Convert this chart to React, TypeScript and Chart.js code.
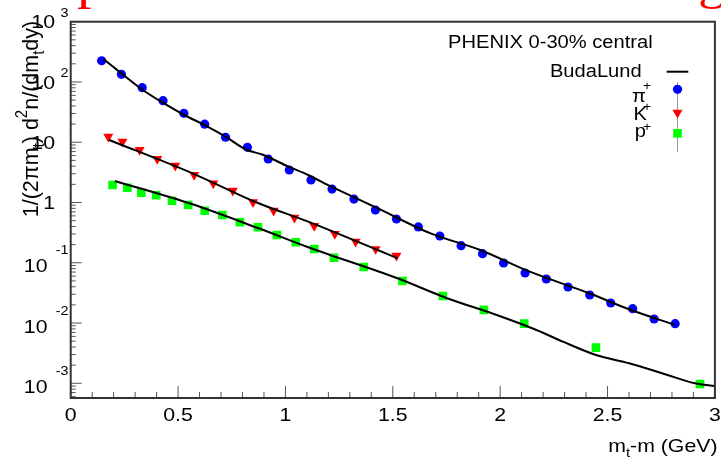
import React, { useEffect, useRef } from 'react';
import { Chart, registerables } from 'chart.js';

Chart.register(...registerables);

// ---- data ----
const piX = [0.144, 0.236, 0.333, 0.43, 0.527, 0.624, 0.721, 0.823, 0.92, 1.018, 1.119, 1.217, 1.319, 1.419, 1.517, 1.619, 1.719, 1.818, 1.918, 2.016, 2.116, 2.215, 2.316, 2.417, 2.515, 2.617, 2.717, 2.815];
const piY = [225, 134, 80.3, 48.9, 30.2, 19.9, 12.1, 8.24, 5.27, 3.46, 2.36, 1.67, 1.14, 0.751, 0.532, 0.393, 0.278, 0.192, 0.1416, 0.0991, 0.0676, 0.0538, 0.0396, 0.0292, 0.0215, 0.0173, 0.01167, 0.00975];

const kX = [0.175, 0.241, 0.321, 0.403, 0.487, 0.575, 0.664, 0.755, 0.849, 0.945, 1.042, 1.134, 1.23, 1.327, 1.42, 1.517];
const kY = [12.4, 10.2, 7.43, 5.27, 4.08, 2.86, 2.08, 1.57, 1.01, 0.731, 0.56, 0.407, 0.3, 0.224, 0.169, 0.131];

const pX = [0.195, 0.264, 0.329, 0.398, 0.472, 0.547, 0.624, 0.706, 0.788, 0.872, 0.96, 1.048, 1.134, 1.226, 1.365, 1.545, 1.733, 1.924, 2.112, 2.446, 2.931];
const pY = [1.95, 1.76, 1.45, 1.32, 1.07, 0.909, 0.731, 0.621, 0.47, 0.388, 0.289, 0.219, 0.169, 0.121, 0.0851, 0.0499, 0.0281, 0.0165, 0.00975, 0.0039, 0.000975];

// BudaLund fit curves
const piFitX = [0.152, 0.236, 0.336, 0.429, 0.529, 0.624, 0.721, 0.814, 0.898, 1.014, 1.106, 1.214, 1.414, 1.676, 1.907, 2.138, 2.415, 2.6, 2.815];
const piFitY = [240, 139, 73.6, 45.3, 28.3, 19.3, 12.4, 7.64, 6.14, 3.93, 2.86, 1.83, 0.851, 0.308, 0.163, 0.0711, 0.0312, 0.0169, 0.00929];
const kFitX = [0.179, 0.567, 0.875, 1.106, 1.522];
const kFitY = [10.9, 3.05, 0.97, 0.481, 0.1186];
const pFitX = [0.206, 0.567, 0.875, 1.106, 1.522, 1.753, 1.984, 2.169, 2.292, 2.446, 2.6, 2.754, 2.907, 3.0];
const pFitY = [2.28, 0.933, 0.373, 0.181, 0.0552, 0.0258, 0.0136, 0.00767, 0.00491, 0.00295, 0.00215, 0.00147, 0.001, 0.000903];

const xTickValues = [0, 0.5, 1, 1.5, 2, 2.5, 3];
const xTickLabels = ['0', '0.5', '1', '1.5', '2', '2.5', '3'];
const yExponents = [-3, -2, -1, 0, 1, 2, 3];

const slideTitle = 'Spectra and BudaLund fitting';
const annotation = 'PHENIX 0-30% central';
const fitLabel = 'BudaLund';

const SANS = "'Liberation Sans', Arial, Helvetica, sans-serif";
const SX = 1.15;

type Run = { t: string; sub?: boolean; sup?: boolean };

function runsWidth(ctx: CanvasRenderingContext2D, runs: Run[], size: number) {
  let w = 0;
  for (const r of runs) {
    const s = r.sub || r.sup ? size * 0.7 : size;
    ctx.font = `${s}px ${SANS}`;
    w += ctx.measureText(r.t).width;
  }
  return w;
}

function drawRuns(ctx: CanvasRenderingContext2D, runs: Run[], size: number) {
  let x = 0;
  ctx.textAlign = 'left';
  ctx.textBaseline = 'alphabetic';
  for (const r of runs) {
    const s = r.sub || r.sup ? size * 0.7 : size;
    ctx.font = `${s}px ${SANS}`;
    const dy = r.sub ? size * 0.28 : r.sup ? -size * 0.45 : 0;
    ctx.fillText(r.t, x, dy);
    x += ctx.measureText(r.t).width;
  }
}

function text(ctx: CanvasRenderingContext2D, runs: Run[], x: number, y: number, size: number, align: 'left' | 'right' | 'center' = 'left', color = '#000') {
  ctx.save();
  ctx.fillStyle = color;
  ctx.translate(x, y);
  ctx.scale(SX, 1);
  const w = runsWidth(ctx, runs, size);
  if (align === 'right') ctx.translate(-w, 0);
  else if (align === 'center') ctx.translate(-w / 2, 0);
  drawRuns(ctx, runs, size);
  ctx.restore();
}

const decor = {
  id: 'decor',
  beforeDraw(chart: any) {
    const ctx: CanvasRenderingContext2D = chart.ctx;
    ctx.save();
    ctx.fillStyle = '#ff0000';
    ctx.font = `50px 'Liberation Serif', 'Times New Roman', serif`;
    ctx.textBaseline = 'alphabetic';
    ctx.textAlign = 'left';
    ctx.translate(45, -2.5);
    ctx.scale(SX, 1);
    ctx.fillText(slideTitle, 0, 0);
    ctx.restore();
  },
  afterDraw(chart: any) {
    const ctx: CanvasRenderingContext2D = chart.ctx;
    const xs = chart.scales.x;
    const ys = chart.scales.y;
    const { left, right, top, bottom } = chart.chartArea;

    // ticks
    ctx.save();
    ctx.strokeStyle = '#555';
    ctx.lineWidth = 1;
    ctx.beginPath();
    for (let i = 0; i <= 30; i++) {
      const v = i / 10;
      const px = xs.getPixelForValue(v);
      const len = i % 5 === 0 ? 12 : 6;
      ctx.moveTo(px, bottom);
      ctx.lineTo(px, bottom - len);
    }
    for (let e = -4; e <= 3; e++) {
      for (let m = 1; m <= 9; m++) {
        const v = m * Math.pow(10, e);
        if (v < ys.min * 0.999 || v > ys.max * 1.001) continue;
        const py = ys.getPixelForValue(v);
        const len = m === 1 ? 11 : 5;
        ctx.moveTo(left, py);
        ctx.lineTo(left + len, py);
      }
    }
    ctx.stroke();

    // frame
    ctx.strokeStyle = '#333';
    ctx.lineWidth = 2;
    ctx.strokeRect(left, top, right - left, bottom - top);
    ctx.restore();

    // x tick labels
    xTickValues.forEach((v, i) => {
      text(ctx, [{ t: xTickLabels[i] }], xs.getPixelForValue(v), 421, 18.5, 'center');
    });

    // y tick labels
    yExponents.forEach((e) => {
      const py = ys.getPixelForValue(Math.pow(10, e));
      if (e === 0) {
        text(ctx, [{ t: '1' }], 55, py + 6.6, 18.5, 'right');
      } else if (e === 1) {
        text(ctx, [{ t: '10' }], 55, py + 6.6, 18.5, 'right');
      } else if (e > 1) {
        text(ctx, [{ t: '10' }], 55, py + 6.6, 18.5, 'right');
        text(ctx, [{ t: String(e) }], 68.5, py - 5, 12.5, 'right');
      } else {
        text(ctx, [{ t: '10' }], 47.5, py + 9.7, 18.5, 'right');
        text(ctx, [{ t: String(e) }], 68.5, py - 8.3, 12.5, 'right');
      }
    });

    // axis titles
    text(ctx, [{ t: 'm' }, { t: 't', sub: true }, { t: '-m (GeV)' }], 717.5, 451.5, 18.5, 'right');

    const yTitle: Run[] = [
      { t: '1/(2\u03c0m' }, { t: 't', sub: true }, { t: ') d' }, { t: '2', sup: true },
      { t: 'n/(dm' }, { t: 't', sub: true }, { t: 'dy)' },
    ];
    ctx.save();
    ctx.fillStyle = '#000';
    const ysize = 21.5;
    const yw = runsWidth(ctx, yTitle, ysize);
    ctx.translate(37.5, 119 + yw / 2);
    ctx.rotate(-Math.PI / 2);
    ctx.scale(1, 1.05);
    drawRuns(ctx, yTitle, ysize);
    ctx.restore();

    // annotation + legend
    text(ctx, [{ t: annotation }], 448, 48.3, 17.5, 'left');
    text(ctx, [{ t: fitLabel }], 641.7, 76.5, 17.5, 'right');
    ctx.save();
    ctx.strokeStyle = '#000';
    ctx.lineWidth = 2;
    ctx.beginPath();
    ctx.moveTo(666.7, 71.7);
    ctx.lineTo(688.3, 71.7);
    ctx.stroke();
    ctx.strokeStyle = '#999';
    ctx.lineWidth = 1;
    ctx.beginPath();
    ctx.moveTo(677.5, 82);
    ctx.lineTo(677.5, 152);
    ctx.stroke();
    // markers
    ctx.fillStyle = '#0000ff';
    ctx.beginPath();
    ctx.arc(677.5, 89.3, 4.6, 0, Math.PI * 2);
    ctx.fill();
    ctx.fillStyle = '#ff0000';
    ctx.beginPath();
    const ty = 112.7, tr = 5.8;
    ctx.moveTo(677.5, ty + tr);
    ctx.lineTo(677.5 - tr * 0.866, ty - tr / 2);
    ctx.lineTo(677.5 + tr * 0.866, ty - tr / 2);
    ctx.closePath();
    ctx.fill();
    ctx.fillStyle = '#00ff00';
    ctx.fillRect(677.5 - 4.3, 133.3 - 4.3, 8.6, 8.6);
    ctx.restore();

    text(ctx, [{ t: '\u03c0' }], 646, 101.7, 17.5, 'right');
    text(ctx, [{ t: '+' }], 651, 90, 12, 'right');
    text(ctx, [{ t: 'K' }], 647, 120, 17.5, 'right');
    text(ctx, [{ t: '+' }], 651, 111, 12, 'right');
    text(ctx, [{ t: 'p' }], 646, 136.7, 17.5, 'right');
    text(ctx, [{ t: '+' }], 651, 131, 12, 'right');
  },
};

const zip = (xs: number[], ys: number[]) => xs.map((x, i) => ({ x, y: ys[i] }));

export default function App() {
  const ref = useRef<HTMLCanvasElement | null>(null);
  useEffect(() => {
    if (!ref.current) return;
    const fitStyle = {
      showLine: true,
      borderColor: '#000',
      borderWidth: 2,
      pointRadius: 0,
      cubicInterpolationMode: 'monotone' as const,
      order: 0,
    };
    const chart = new Chart(ref.current, {
      type: 'scatter',
      data: {
        datasets: [
          { label: 'fit pi', data: zip(piFitX, piFitY), ...fitStyle },
          { label: 'fit K', data: zip(kFitX, kFitY), ...fitStyle },
          { label: 'fit p', data: zip(pFitX, pFitY), ...fitStyle },
          { label: '\u03c0+', data: zip(piX, piY), pointStyle: 'circle', pointRadius: 4.6, backgroundColor: '#0000ff', borderColor: '#0000ff', borderWidth: 0, order: 1 },
          { label: 'K+', data: zip(kX, kY), pointStyle: 'triangle', rotation: 180, pointRadius: 5.8, backgroundColor: '#ff0000', borderColor: '#ff0000', borderWidth: 0, order: 1 },
          { label: 'p+', data: zip(pX, pY), pointStyle: 'rect', pointRadius: 6.1, backgroundColor: '#00ff00', borderColor: '#00ff00', borderWidth: 0, order: 1 },
        ],
      } as any,
      options: {
        responsive: false,
        animation: false,
        devicePixelRatio: 1,
        events: [],
        layout: { padding: { left: 70.7, top: 21.7, right: 1.5, bottom: 61 } },
        scales: {
          x: { type: 'linear', min: 0, max: 3, display: false },
          y: { type: 'logarithmic', min: 5.7e-4, max: 1000, display: false },
        },
        plugins: { legend: { display: false }, tooltip: { enabled: false } },
      },
      plugins: [decor],
    });
    return () => chart.destroy();
  }, []);
  return (
    <div style={{ position: 'fixed', left: 0, top: 0, width: 721, height: 459, background: '#fff' }}>
      <canvas ref={ref} width={721} height={459} style={{ display: 'block', width: 721, height: 459 }} />
    </div>
  );
}
